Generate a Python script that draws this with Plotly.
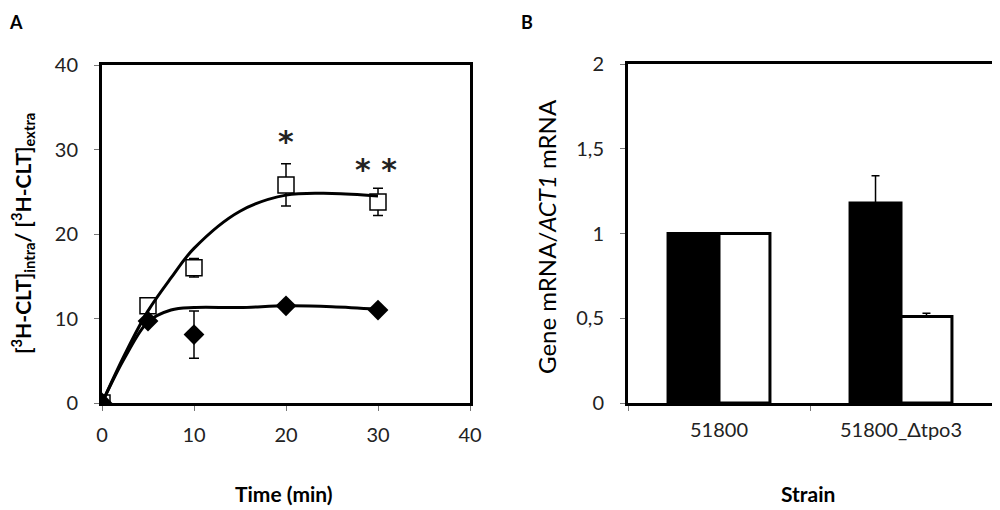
import plotly.graph_objects as go

# Panel A: uptake over time
time_min = [0, 5, 10, 20, 30]
open_vals = [0, 11.5, 16, 25.8, 23.8]
open_err = [0, 0, 1.1, 2.5, 1.6]
filled_vals = [0, 9.7, 8.1, 11.5, 11.0]
filled_err = [0, 0, 2.8, 0, 0]

# fitted curves
fit_t = [0, 2.5, 5, 7.5, 10, 15, 20, 25, 30]
fit_open = [0, 5.8, 10.9, 14.8, 18.3, 22.7, 24.6, 24.8, 24.5]
fit_filled = [0, 5.4, 9.6, 11.0, 11.3, 11.3, 11.5, 11.4, 11.1]

# significance marks
star_x = [20, 29.8]
star_y = [31.0, 27.6]
star_txt = ["*", "* *"]

# Panel B: relative expression
strains = ["51800", "51800_\u0394tpo3"]
black_vals = [1.0, 1.18]
black_err = [0, 0.16]
white_vals = [1.0, 0.51]
white_err = [0, 0.02]

FONT = "Lato, 'Open Sans', sans-serif"
W, H = 1000, 510
PAGE_PAD = 8  # browser body margin shifts the plot


def xp(px):
    return (px - PAGE_PAD) / W


def yp(py):
    return 1 - (py - PAGE_PAD) / H


fig = go.Figure()

fig.add_trace(go.Scatter(
    x=time_min, y=open_vals, mode="markers",
    marker=dict(symbol="square", size=16, color="white", line=dict(color="black", width=1.5)),
    error_y=dict(type="data", array=open_err, color="black", thickness=1.5, width=5),
    xaxis="x", yaxis="y", showlegend=False))
fig.add_trace(go.Scatter(
    x=time_min, y=filled_vals, mode="markers",
    marker=dict(symbol="diamond", size=16, color="black"),
    error_y=dict(type="data", array=filled_err, color="black", thickness=1.5, width=5),
    xaxis="x", yaxis="y", showlegend=False))
fig.add_trace(go.Scatter(
    x=fit_t, y=fit_open, mode="lines", line=dict(color="black", width=3, shape="spline"),
    xaxis="x", yaxis="y", showlegend=False))
fig.add_trace(go.Scatter(
    x=fit_t, y=fit_filled, mode="lines", line=dict(color="black", width=3, shape="spline"),
    xaxis="x", yaxis="y", showlegend=False))

fig.add_trace(go.Bar(
    x=strains, y=black_vals, marker=dict(color="black", line=dict(color="black", width=3)),
    error_y=dict(type="data", array=black_err, arrayminus=[0, 0], symmetric=False,
                 color="black", thickness=1.5, width=4),
    xaxis="x2", yaxis="y2", showlegend=False))
fig.add_trace(go.Bar(
    x=strains, y=white_vals, marker=dict(color="white", line=dict(color="black", width=3)),
    error_y=dict(type="data", array=white_err, arrayminus=[0, 0], symmetric=False,
                 color="black", thickness=1.5, width=4),
    xaxis="x2", yaxis="y2", showlegend=False))

for sx, sy, st in zip(star_x, star_y, star_txt):
    fig.add_annotation(x=sx, y=sy, xref="x", yref="y", text="<b>" + st + "</b>", showarrow=False,
                       font=dict(size=30, color="#222", family="DejaVu Sans"))

axis_common = dict(showline=True, linecolor="black", linewidth=3, mirror=True,
                   ticks="outside", ticklen=5, tickcolor="#777", tickwidth=1,
                   showgrid=False, zeroline=False, automargin=False,
                   tickfont=dict(size=20, color="#222", family=FONT))

fig.update_layout(
    width=W, height=H, margin=dict(l=0, r=0, t=0, b=0, autoexpand=False),
    paper_bgcolor="white", plot_bgcolor="white",
    barmode="group", bargap=0.44, bargroupgap=0,
    xaxis=dict(domain=[xp(102), xp(470)], range=[0, 40], tickvals=[0, 10, 20, 30, 40],
               anchor="y", ticklabelstandoff=7, **axis_common),
    yaxis=dict(domain=[yp(403), yp(65)], range=[0, 40], tickvals=[0, 10, 20, 30, 40],
               anchor="x", ticklabelstandoff=12, **axis_common),
    xaxis2=dict(domain=[xp(628), xp(992)], range=[-0.5, 1.5], tickson="boundaries",
                anchor="y2", ticklabelstandoff=7, **axis_common),
    yaxis2=dict(domain=[yp(403), yp(64)], range=[0, 2], tickvals=[0, 0.5, 1, 1.5, 2],
                ticktext=["0", "0,5", "1", "1,5", "2"], anchor="x2", ticklabelstandoff=12,
                **axis_common),
)

titles = [
    dict(x=16, y=22, text="<b>A</b>", size=18, angle=0),
    dict(x=527, y=22, text="<b>B</b>", size=18, angle=0),
    dict(x=284, y=493, text="<b>Time (min)</b>", size=21, angle=0),
    dict(x=808, y=493, text="<b>Strain</b>", size=21, angle=0),
    dict(x=22, y=234, text="<b>[<sup>3</sup>H-CLT]<sub>intra</sub>/ [<sup>3</sup>H-CLT]<sub>extra</sub></b>",
         size=21, angle=-90),
    dict(x=547, y=237, text="Gene mRNA/<i>ACT1</i> mRNA", size=24, angle=-90),
]
for t in titles:
    fig.add_annotation(x=xp(t["x"]), y=yp(t["y"]), xref="paper", yref="paper", text=t["text"],
                       showarrow=False, textangle=t["angle"],
                       xanchor="center", yanchor="middle",
                       font=dict(size=t["size"], color="black", family=FONT))

fig.write_html("out.html")
